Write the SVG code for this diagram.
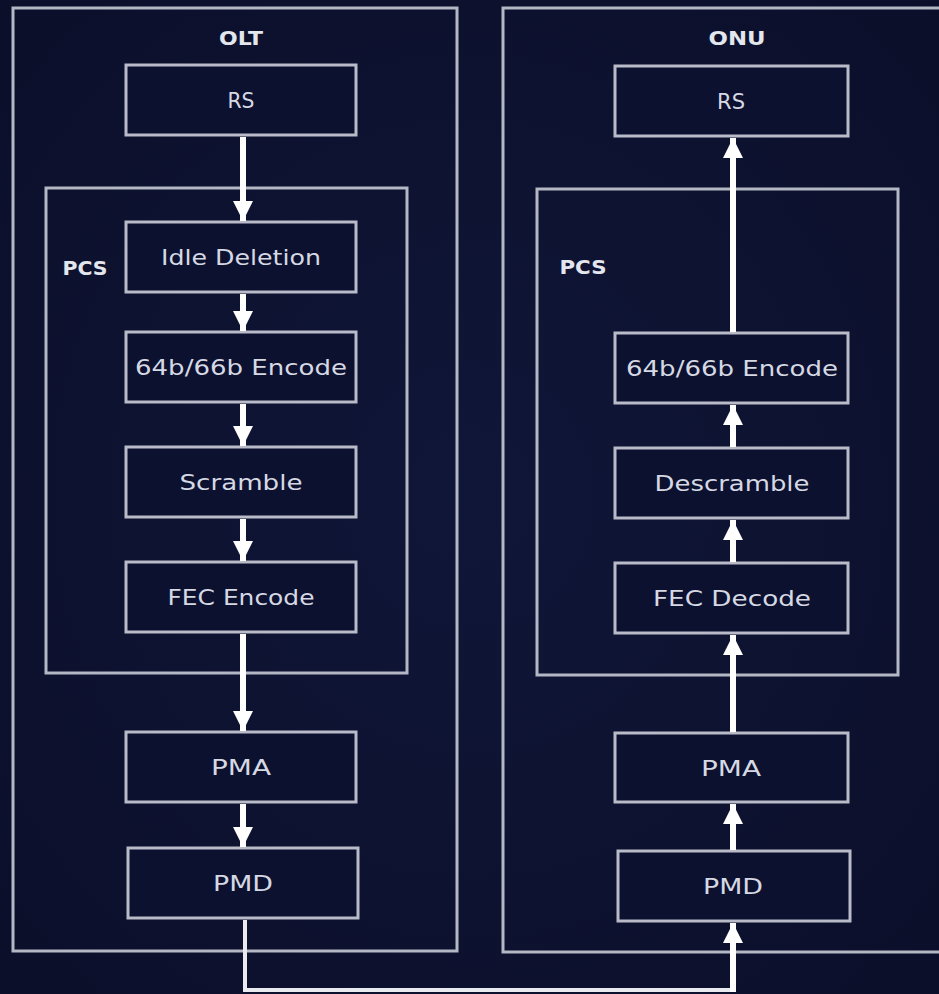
<svg xmlns="http://www.w3.org/2000/svg" width="939" height="994" viewBox="0 0 939 994">
  <defs>
    <style>
      .frame { fill: none; stroke: #b4b7c4; stroke-width: 3; }
      .box { fill: #0c1130; stroke: #b9bcc8; stroke-width: 3; }
      .lbl { fill: #d6d9e3; font-family: "DejaVu Sans", "Liberation Sans", sans-serif; font-size: 21px; text-anchor: middle; dominant-baseline: central; }
      .title { fill: #e4e6ee; font-family: "DejaVu Sans", "Liberation Sans", sans-serif; font-size: 20px; font-weight: bold; text-anchor: middle; dominant-baseline: central; }
      .flow { fill: none; stroke: #ffffff; stroke-width: 6; }
      .link { fill: none; stroke: #e8eaf0; stroke-width: 4; }
    </style>
    <marker id="head" viewBox="0 0 10 10" refX="10" refY="5" markerWidth="3.4" markerHeight="3.4" markerUnits="strokeWidth" orient="auto">
      <path d="M0,0 L10,5 L0,10 z" fill="#ffffff"/>
    </marker>
    <radialGradient id="bg" cx="0.5" cy="0.5" r="0.7">
      <stop offset="0" stop-color="#101638"/>
      <stop offset="1" stop-color="#0b0f2a"/>
    </radialGradient>
  </defs>

  <rect x="0" y="0" width="939" height="994" fill="url(#bg)"/>

  <!-- OLT side -->
  <g id="olt">
    <rect class="frame" x="13" y="8" width="444" height="943"/>
    <text class="title" x="241" y="38" textLength="44" lengthAdjust="spacingAndGlyphs">OLT</text>
  </g>
  <g id="olt-pcs">
    <rect class="frame" x="46" y="188" width="361" height="485"/>
    <text class="title" x="85" y="268" textLength="45" lengthAdjust="spacingAndGlyphs">PCS</text>
  </g>
  <g id="olt-rs">
    <rect class="box" x="126" y="65" width="230" height="70"/>
    <text class="lbl" x="241" y="101" textLength="27" lengthAdjust="spacingAndGlyphs">RS</text>
  </g>
  <g id="olt-idle">
    <rect class="box" x="126" y="222" width="230" height="70"/>
    <text class="lbl" x="241" y="258" textLength="160" lengthAdjust="spacingAndGlyphs">Idle Deletion</text>
  </g>
  <g id="olt-encode">
    <rect class="box" x="126" y="332" width="230" height="70"/>
    <text class="lbl" x="241" y="368" textLength="212" lengthAdjust="spacingAndGlyphs">64b/66b Encode</text>
  </g>
  <g id="olt-scramble">
    <rect class="box" x="126" y="447" width="230" height="70"/>
    <text class="lbl" x="241" y="483" textLength="123" lengthAdjust="spacingAndGlyphs">Scramble</text>
  </g>
  <g id="olt-fec">
    <rect class="box" x="126" y="562" width="230" height="70"/>
    <text class="lbl" x="241" y="598" textLength="147" lengthAdjust="spacingAndGlyphs">FEC Encode</text>
  </g>
  <g id="olt-pma">
    <rect class="box" x="126" y="732" width="230" height="70"/>
    <text class="lbl" x="241" y="768" textLength="60" lengthAdjust="spacingAndGlyphs">PMA</text>
  </g>
  <g id="olt-pmd">
    <rect class="box" x="128" y="848" width="230" height="70"/>
    <text class="lbl" x="243" y="884" textLength="60" lengthAdjust="spacingAndGlyphs">PMD</text>
  </g>

  <!-- ONU side -->
  <g id="onu">
    <rect class="frame" x="503" y="8" width="450" height="944"/>
    <text class="title" x="737" y="38" textLength="57" lengthAdjust="spacingAndGlyphs">ONU</text>
  </g>
  <g id="onu-pcs">
    <rect class="frame" x="537" y="189" width="361" height="486"/>
    <text class="title" x="583" y="267" textLength="47" lengthAdjust="spacingAndGlyphs">PCS</text>
  </g>
  <g id="onu-rs">
    <rect class="box" x="615" y="66" width="233" height="70"/>
    <text class="lbl" x="731" y="102" textLength="28" lengthAdjust="spacingAndGlyphs">RS</text>
  </g>
  <g id="onu-encode">
    <rect class="box" x="615" y="333" width="233" height="70"/>
    <text class="lbl" x="732" y="369" textLength="212" lengthAdjust="spacingAndGlyphs">64b/66b Encode</text>
  </g>
  <g id="onu-descramble">
    <rect class="box" x="615" y="448" width="233" height="70"/>
    <text class="lbl" x="732" y="484" textLength="155" lengthAdjust="spacingAndGlyphs">Descramble</text>
  </g>
  <g id="onu-fec">
    <rect class="box" x="615" y="563" width="233" height="70"/>
    <text class="lbl" x="732" y="599" textLength="158" lengthAdjust="spacingAndGlyphs">FEC Decode</text>
  </g>
  <g id="onu-pma">
    <rect class="box" x="615" y="733" width="233" height="69"/>
    <text class="lbl" x="731" y="769" textLength="60" lengthAdjust="spacingAndGlyphs">PMA</text>
  </g>
  <g id="onu-pmd">
    <rect class="box" x="618" y="851" width="232" height="70"/>
    <text class="lbl" x="733" y="887" textLength="60" lengthAdjust="spacingAndGlyphs">PMD</text>
  </g>

  <!-- Data path arrows -->
  <g id="connectors">
    <line class="flow" x1="243" y1="137" x2="243" y2="221" marker-end="url(#head)"/>
    <line class="flow" x1="243" y1="294" x2="243" y2="331" marker-end="url(#head)"/>
    <line class="flow" x1="243" y1="404" x2="243" y2="446" marker-end="url(#head)"/>
    <line class="flow" x1="243" y1="519" x2="243" y2="561" marker-end="url(#head)"/>
    <line class="flow" x1="243" y1="634" x2="243" y2="731" marker-end="url(#head)"/>
    <line class="flow" x1="243" y1="804" x2="243" y2="847" marker-end="url(#head)"/>

    <line class="flow" x1="733" y1="332" x2="733" y2="138" marker-end="url(#head)"/>
    <line class="flow" x1="733" y1="447" x2="733" y2="405" marker-end="url(#head)"/>
    <line class="flow" x1="733" y1="562" x2="733" y2="520" marker-end="url(#head)"/>
    <line class="flow" x1="733" y1="732" x2="733" y2="635" marker-end="url(#head)"/>
    <line class="flow" x1="733" y1="850" x2="733" y2="804" marker-end="url(#head)"/>

    <!-- OLT PMD to ONU PMD link -->
    <polyline class="link" points="245,920 245,990 733,990 733,960"/>
    <line class="flow" x1="733" y1="992" x2="733" y2="923" marker-end="url(#head)"/>
  </g>
</svg>
